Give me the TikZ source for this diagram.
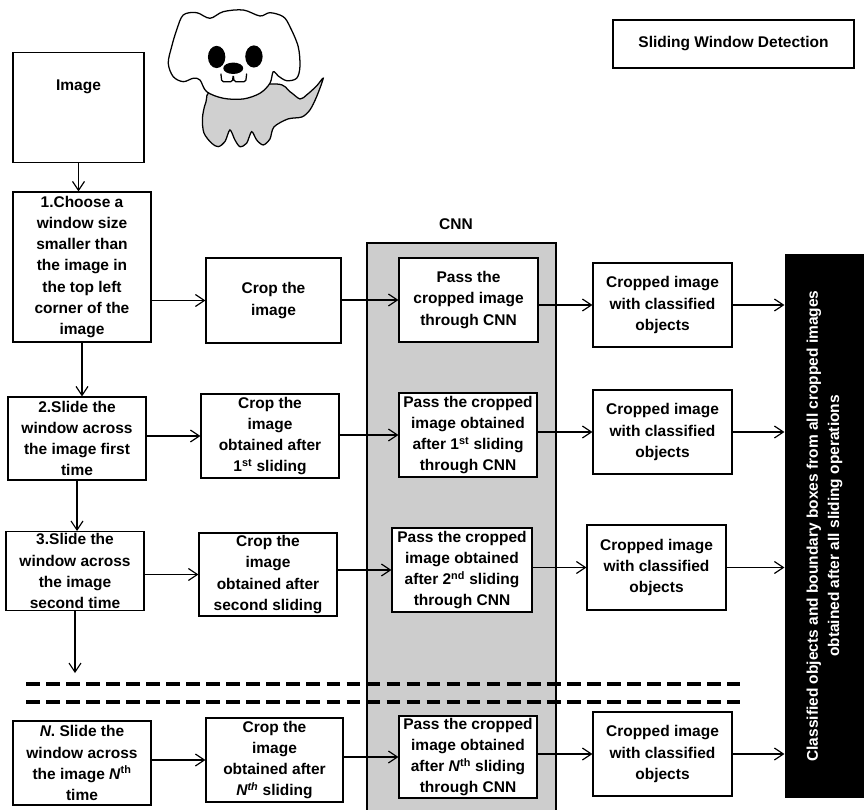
\documentclass[tikz,border=0pt]{standalone}
\usepackage{fontspec}
\setmainfont{Liberation Sans}
\usetikzlibrary{arrows.meta}

\begin{document}
\begin{tikzpicture}[
		line width=1.1pt,
		every node/.style={font=\fontsize{14.7}{20}\selectfont\bfseries,align=center},
		box/.style={draw,fill=white,inner sep=2pt,minimum width=4.6cm,minimum height=2.8cm},
		arr/.style={-{Straight Barb[length=3mm,width=4mm]}}
	]
		\definecolor{PanelGray}{RGB}{205,205,205}
		\definecolor{DogGray}{RGB}{208,208,208}
		\useasboundingbox (0,0) rectangle (28.8,26.967);
		% CNN panel
		\fill[PanelGray,draw=black] (12.233,-0.3) rectangle (18.533,18.867);
		\node (cnn) at (15.2,19.5) {CNN};
		% little dog
		\begin{scope}[x=0.03333cm,y=-0.03333cm,yshift=26.967cm,line width=1.2pt]
			\draw[fill=DogGray] plot[smooth cycle,tension=0.5] coordinates {
				(214,90) (206,102) (202.5,118) (204,133) (211.7,143.3)
				(218.3,146.7) (225,141.7) (230,130) (235,140) (240,146.7)
				(246.7,143.3) (251.7,131.7) (256.7,140) (263.3,145) (270,139)
				(274,127) (288,119) (302,117) (310,110) (316.7,96.7)
				(323.3,78.3) (316.7,86) (306.7,95) (300,99) (290,91.7) (276,84)};
			\draw[fill=white] plot[smooth cycle,tension=0.55] coordinates {
				(183.3,15) (196.7,12.7) (210,18.3) (223.3,11.7) (243.3,10)
				(260,16) (270,12.7) (283.3,16.7) (290,26.7) (298.3,46.7)
				(300,66.7) (296.7,78.3) (286.7,80.7) (278.3,76) (273.3,71.7)
				(270,83.3) (260,93.3) (243.3,99) (223.3,98.3) (206.7,91.7)
				(200,80) (193.3,78.3) (183.3,81.7) (173.3,76.7) (168.3,63.3)
				(171.7,46.7) (176.7,30)};
			\fill (216.7,57) ellipse [x radius=0.29cm,y radius=0.37cm];
			\fill (254,56.5) ellipse [x radius=0.29cm,y radius=0.37cm];
			\fill (233.3,68.3) ellipse [x radius=0.333cm,y radius=0.19cm];
			\draw[rounded corners=1.5pt,line cap=round]
				(221,74) -- (221.8,81.7) -- (232.5,81.7) -- (233.3,75)
				-- (234.2,81.7) -- (245.8,81.7) -- (246.7,74);
		\end{scope}
		% title and input
		\node[draw,minimum width=8.033cm,minimum height=1.6cm] (title) at (24.45,25.5)
			{Sliding Window Detection};
		\node[draw,inner sep=0pt,minimum width=4.367cm,text height=1.27cm,text depth=2.4cm]
			(img) at (2.617,25.233) [anchor=north] {Image};
		% steps
		\node[box,minimum height=5cm] (s1) at (2.733,18.067)
			{1.Choose a\\window size\\smaller than\\the image in\\the top left\\corner of the\\image};
		\node[box,minimum height=2.767cm] (s2) at (2.567,12.35)
			{2.Slide the\\window across\\the image first\\time};
		\node[box,minimum height=2.467cm] (s3) at (2.5,7.933)
			{3.Slide the\\window across\\the image\\second time};
		\node[box] (sN) at (2.733,1.533)
			{\textit{N}. Slide the\\window across\\the image \textit{N}\textsuperscript{th}\\time};
		% cropping
		\node[box,minimum width=4.5cm,minimum height=2.833cm] (c1) at (9.117,16.95)
			{Crop the\\image};
		\node[box] (c2) at (9,12.433)
			{Crop the\\image\\obtained after\\1\textsuperscript{st} sliding};
		\node[box,minimum height=2.767cm] (c3) at (8.933,7.817)
			{Crop the\\image\\obtained after\\second sliding};
		\node[box,minimum width=4.567cm] (cN) at (9.15,1.633)
			{Crop the\\image\\obtained after\\\textit{N\textsuperscript{th}} sliding};
		% CNN passes
		\node[box,minimum width=4.633cm] (p1) at (15.617,16.967)
			{Pass the\\cropped image\\through CNN};
		\node[box] (p2) at (15.6,12.467)
			{Pass the cropped\\image obtained\\after 1\textsuperscript{st} sliding\\through CNN};
		\node[box,minimum width=4.667cm] (p3) at (15.4,7.967)
			{Pass the cropped\\image obtained\\after 2\textsuperscript{nd} sliding\\through CNN};
		\node[box,minimum height=2.733cm] (pN) at (15.6,1.733)
			{Pass the cropped\\image obtained\\after \textit{N}\textsuperscript{th} sliding\\through CNN};
		% results
		\node[box,minimum width=4.633cm] (o1) at (22.083,16.8)
			{Cropped image\\with classified\\objects};
		\node[box,minimum width=4.633cm] (o2) at (22.083,12.567)
			{Cropped image\\with classified\\objects};
		\node[box,minimum width=4.633cm,minimum height=2.833cm] (o3) at (21.883,8.05)
			{Cropped image\\with classified\\objects};
		\node[box,minimum width=4.633cm] (oN) at (22.083,1.833)
			{Cropped image\\with classified\\objects};
		\node[fill=black,text=white,rotate=90,minimum width=18.133cm,minimum height=2.633cm]
			(all) at (27.483,9.433)
			{Classified objects and boundary boxes from all cropped images\\obtained after all sliding operations};
		% skipped steps
		\draw[line width=3.3pt,dash pattern=on 13pt off 6pt] (0.867,4.167) -- (24.667,4.167);
		\draw[line width=3.3pt,dash pattern=on 13pt off 6pt] (0.867,3.567) -- (24.667,3.567);
		\coordinate (more) at (2.5,4.53);
		% arrows
		\draw[arr] (img.south) -- (img.south |- s1.north);
		\draw[arr] (s1.south) -- (s1.south |- s2.north);
		\draw[arr] (s2.south) -- (s2.south |- s3.north);
		\draw[arr] (s3.south) -- (more);
		\draw[arr] (s1.east |- c1.west) -- (c1.west);
		\draw[arr] (s2.east |- c2.west) -- (c2.west);
		\draw[arr] (s3.east |- c3.west) -- (c3.west);
		\draw[arr] (sN.east |- cN.west) -- (cN.west);
		\draw[arr] (c1.east |- p1.west) -- (p1.west);
		\draw[arr] (c2.east |- p2.west) -- (p2.west);
		\draw[arr] (c3.east |- p3.west) -- (p3.west);
		\draw[arr] (cN.east |- pN.west) -- (pN.west);
		\draw[arr] (p1.east |- o1.west) -- (o1.west);
		\draw[arr] (p2.east |- o2.west) -- (o2.west);
		\draw[arr] (p3.east |- o3.west) -- (o3.west);
		\draw[arr] (pN.east |- oN.west) -- (oN.west);
		\draw[arr] (o1.east) -- (o1.east -| all.north);
		\draw[arr] (o2.east) -- (o2.east -| all.north);
		\draw[arr] (o3.east) -- (o3.east -| all.north);
		\draw[arr] (oN.east) -- (oN.east -| all.north);
	\end{tikzpicture}
\end{document}
